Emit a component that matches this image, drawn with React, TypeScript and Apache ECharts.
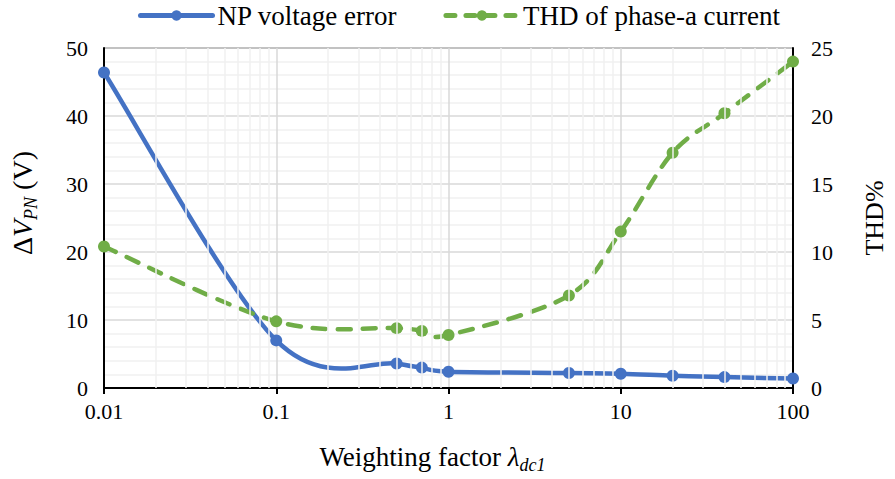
import React, { useEffect, useRef } from "react";
import * as echarts from "echarts";

const lambdaValues = [0.01, 0.1, 0.5, 0.7, 1, 5, 10, 20, 40, 100];
const npVoltageError = [46.4, 7.0, 3.6, 3.0, 2.4, 2.2, 2.1, 1.8, 1.6, 1.4];
const thdPhaseA = [10.4, 4.9, 4.4, 4.2, 3.9, 6.8, 11.5, 17.3, 20.2, 24.0];
const decades = [0.01, 0.1, 1, 10];
const minorMultipliers = [2, 3, 4, 5, 6, 7, 8, 9];

const FONT = "Liberation Serif, Times New Roman, serif";
const BLUE = "#4472C4";
const GREEN = "#70AD47";
const DASH = [13, 12];

// Excel-like smoothed curve (Catmull-Rom, tension 1/6) through library coordinates
function smoothCurveSeries(name: string, ys: number[], yAxisIndex: number, color: string, dash: number[] | null) {
  return {
    name: name + "-curve",
    type: "custom",
    coordinateSystem: "cartesian2d",
    yAxisIndex,
    z: 2,
    silent: true,
    clip: false,
    data: [[lambdaValues[0], ys[0]]],
    encode: { x: 0, y: 1 },
    renderItem: (_params: any, api: any) => {
      const pts = lambdaValues.map((x, i) => api.coord([x, ys[i]]));
      let d = `M${pts[0][0]},${pts[0][1]}`;
      for (let i = 0; i < pts.length - 1; i++) {
        const p0 = pts[Math.max(0, i - 1)];
        const p1 = pts[i];
        const p2 = pts[i + 1];
        const p3 = pts[Math.min(pts.length - 1, i + 2)];
        const c1x = p1[0] + (p2[0] - p0[0]) / 6;
        const c1y = p1[1] + (p2[1] - p0[1]) / 6;
        const c2x = p2[0] - (p3[0] - p1[0]) / 6;
        const c2y = p2[1] - (p3[1] - p1[1]) / 6;
        d += ` C${c1x},${c1y} ${c2x},${c2y} ${p2[0]},${p2[1]}`;
      }
      return {
        type: "path",
        shape: { pathData: d },
        style: {
          fill: "none",
          stroke: color,
          lineWidth: 4.5,
          lineCap: "round",
          lineJoin: "round",
          lineDash: dash || undefined,
        },
      };
    },
  };
}

export default function App() {
  const ref = useRef<HTMLDivElement>(null);
  useEffect(() => {
    if (!ref.current) return;
    const chart = echarts.init(ref.current, null, { renderer: "svg" });
    const minorX: number[] = [];
    decades.forEach((d) => minorMultipliers.forEach((m) => minorX.push(Number((d * m).toPrecision(4)))));

    const blueData = lambdaValues.map((x, i) => [x, npVoltageError[i]]);
    const greenData = lambdaValues.map((x, i) => [x, thdPhaseA[i]]);

    chart.setOption({
      animation: false,
      textStyle: { fontFamily: FONT },
      grid: {
        left: 101,
        right: 86,
        top: 48,
        bottom: 83,
        show: true,
        borderColor: "#000",
        borderWidth: 1,
        backgroundColor: "transparent",
      },
      legend: {
        data: [
          {
            name: "NP voltage error",
            lineStyle: { color: BLUE, width: 5, opacity: 1, type: "solid", cap: "round" },
            itemStyle: { color: BLUE },
          },
          {
            name: "THD of phase-a current",
            lineStyle: { color: GREEN, width: 5, opacity: 1, type: [9, 11], cap: "round" },
            itemStyle: { color: GREEN },
          },
        ],
        left: 138,
        top: 2,
        padding: 0,
        itemWidth: 72,
        itemHeight: 13,
        itemGap: 46,
        textStyle: { fontFamily: FONT, fontSize: 27, color: "#000" },
      },
      xAxis: {
        type: "log",
        logBase: 10,
        min: 0.01,
        max: 100,
        splitNumber: 4,
        axisLine: { show: true, lineStyle: { color: "#000", width: 2 } },
        axisTick: { show: true, length: 6, lineStyle: { color: "#000", width: 2 } },
        axisLabel: {
          fontFamily: FONT,
          fontSize: 22,
          color: "#000",
          margin: 12,
          formatter: (v: number) => String(Number(Number(v).toPrecision(6))),
        },
        splitLine: { show: true, lineStyle: { color: "#d9d9d9", width: 1.5 } },
        name: "{n|Weighting factor }{l|λ}{s|dc1}",
        nameLocation: "middle",
        nameGap: 52,
        nameTextStyle: {
          padding: [0, 32, 0, 0],
          rich: {
            n: { fontFamily: FONT, fontSize: 27, color: "#000", lineHeight: 34 },
            l: { fontFamily: FONT, fontSize: 27, fontStyle: "italic", color: "#000", lineHeight: 34 },
            s: {
              fontFamily: FONT,
              fontSize: 18,
              fontStyle: "italic",
              color: "#000",
              lineHeight: 18,
              verticalAlign: "bottom",
            },
          },
        },
      },
      yAxis: [
        {
          type: "value",
          min: 0,
          max: 50,
          interval: 10,
          axisLine: { show: true, lineStyle: { color: "#000", width: 2 } },
          axisTick: { show: false },
          axisLabel: { fontFamily: FONT, fontSize: 22, color: "#000", margin: 16 },
          splitLine: { show: true, lineStyle: { color: "#d9d9d9", width: 1.5 } },
          minorTick: { show: false, splitNumber: 5 },
          minorSplitLine: { show: true, lineStyle: { color: "#f0f0f0", width: 1.5 } },
          name: "{d|Δ}{v|V}{s|PN}{n| (V)}",
          nameLocation: "middle",
          nameRotate: 90,
          nameGap: 64,
          nameTextStyle: {
            padding: [0, 0, 0, 30],
            rich: {
              d: { fontFamily: FONT, fontSize: 28, color: "#000", lineHeight: 36 },
              v: { fontFamily: FONT, fontSize: 28, fontStyle: "italic", color: "#000", lineHeight: 36 },
              s: {
                fontFamily: FONT,
                fontSize: 18,
                fontStyle: "italic",
                color: "#000",
                lineHeight: 18,
                verticalAlign: "bottom",
              },
              n: { fontFamily: FONT, fontSize: 28, color: "#000", lineHeight: 36 },
            },
          },
        },
        {
          type: "value",
          min: 0,
          max: 25,
          interval: 5,
          position: "right",
          axisLine: { show: true, lineStyle: { color: "#000", width: 2 } },
          axisTick: { show: false },
          axisLabel: { fontFamily: FONT, fontSize: 22, color: "#000", margin: 18 },
          splitLine: { show: false },
          name: "THD%",
          nameLocation: "middle",
          nameRotate: 90,
          nameGap: 68,
          nameTextStyle: { fontFamily: FONT, fontSize: 26, color: "#000" },
        },
      ],
      series: [
        {
          name: "minor-grid",
          type: "line",
          data: [],
          z: 1,
          silent: true,
          markLine: {
            silent: true,
            symbol: ["none", "none"],
            label: { show: false },
            lineStyle: { color: "#f0f0f0", width: 1.5, type: "solid" },
            data: minorX.map((x) => ({ xAxis: x })),
          },
        },
        smoothCurveSeries("NP voltage error", npVoltageError, 0, BLUE, null),
        smoothCurveSeries("THD of phase-a current", thdPhaseA, 1, GREEN, DASH),
        {
          name: "NP voltage error",
          type: "line",
          data: blueData,
          yAxisIndex: 0,
          symbol: "circle",
          symbolSize: 12,
          z: 3,
          itemStyle: { color: BLUE },
          lineStyle: { color: BLUE, width: 4, opacity: 0 },
        },
        {
          name: "THD of phase-a current",
          type: "line",
          data: greenData,
          yAxisIndex: 1,
          symbol: "circle",
          symbolSize: 12,
          z: 3,
          itemStyle: { color: GREEN },
          lineStyle: { color: GREEN, width: 4, opacity: 0 },
        },
      ],
    });
    return () => chart.dispose();
  }, []);
  return (
    <div
      ref={ref}
      style={{ position: "absolute", left: 0, top: 0, width: 895, height: 479 }}
    />
  );
}
